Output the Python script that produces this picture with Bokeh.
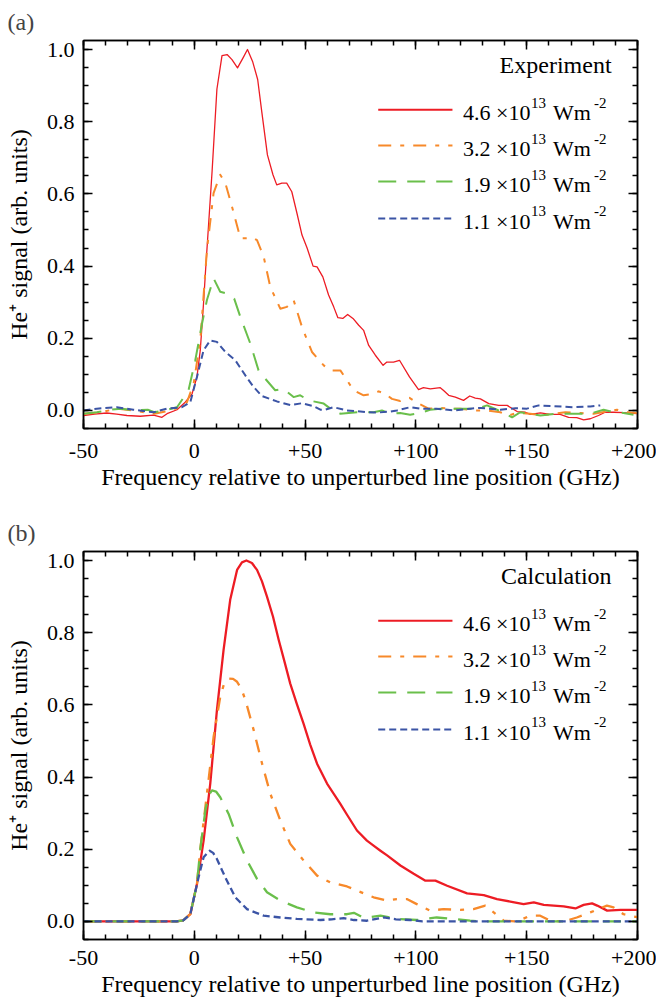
from bokeh.plotting import figure
from bokeh.layouts import column
from bokeh.models import (Range1d, LinearAxis, FixedTicker, CustomJSTickFormatter,
                          PrintfTickFormatter)
from bokeh.core.properties import value
from bokeh.embed import file_html
from bokeh.resources import INLINE

# ---------------- data: panel (a) experiment ----------------
exp46_x = [-50, -45, -39.5, -35, -30.4, -24.4, -18.4, -14.6, -12.3, -7.8, -4.1, -1, 1.2, 2.7, 4.2, 5, 6.5, 8,
           10.2, 12.5, 14.8, 17, 19.5, 22, 24, 26.3, 28.6, 30.5, 33, 35.5, 37.2, 39.5, 41.7, 44, 46.3, 48.6,
           50.9, 53.6, 55.4, 58, 60.6, 62.9, 64.8, 67, 69.2, 71.6, 74.2, 76.4, 78.7, 81.7, 85.2, 86.9, 89.9,
           92.6, 97.1, 101.2, 103.4, 106.5, 111, 112.5, 114.8, 117.8, 121.5, 124.3, 126.8, 129.1, 132.9,
           137.4, 141.2, 145.7, 149.4, 151.6, 156.2, 160.6, 165.1, 168.9, 172.6, 175.7, 178.7, 182.4, 185.4,
           189.2, 193.7, 199.7]
exp46_y = [-0.014, -0.01, -0.007, -0.01, -0.014, -0.016, -0.013, -0.019, -0.009, 0.002, 0.023, 0.046, 0.093,
           0.167, 0.3, 0.38, 0.52, 0.66, 0.89, 0.983, 0.986, 0.972, 0.949, 0.977, 1.0, 0.967, 0.917, 0.825,
           0.708, 0.653, 0.625, 0.63, 0.63, 0.606, 0.547, 0.486, 0.45, 0.4, 0.398, 0.37, 0.32, 0.287, 0.257,
           0.255, 0.266, 0.255, 0.236, 0.222, 0.18, 0.153, 0.125, 0.134, 0.134, 0.139, 0.093, 0.058, 0.063,
           0.06, 0.063, 0.055, 0.042, 0.037, 0.028, 0.04, 0.034, 0.032, 0.019, 0.014, 0.014, -0.003, -0.005,
           -0.011, -0.007, -0.011, -0.011, -0.019, -0.02, -0.026, -0.023, -0.014, -0.005, -0.005, -0.006,
           -0.009]

exp32_x = [-50, -42, -35, -28, -18, -12, -6.3, -3.3, -0.3, 2.7, 5.7, 8.7, 11.7, 14, 17, 20.8, 23.8, 26, 28.3,
           31.3, 34.3, 38.8, 41.8, 44.8, 48.6, 53.1, 58.4, 61.4, 65.9, 71.9, 76.4, 80.9, 83.2, 86.2, 89.2,
           92.9, 97.1, 101.2, 105.7, 111, 116.3, 120, 126.8, 132.1, 138.1, 141.8, 145.6, 151.6, 156.9, 162.1,
           167.4, 174.2, 180.2, 186.2, 190.7, 195.2, 199.7]
exp32_y = [-0.009, -0.005, 0.005, 0.0, -0.009, -0.002, 0.009, 0.023, 0.074, 0.194, 0.444, 0.602, 0.653, 0.63,
           0.565, 0.477, 0.477, 0.48, 0.472, 0.426, 0.342, 0.282, 0.287, 0.306, 0.231, 0.162, 0.125, 0.111,
           0.111, 0.056, 0.042, 0.046, 0.053, 0.046, 0.032, 0.026, 0.035, 0.019, 0.005, 0.007, 0.005, 0.005,
           0.0, 0.0, -0.005, -0.014, -0.007, -0.009, -0.014, -0.009, -0.005, -0.007, -0.009, -0.003, 0.002,
           -0.005, -0.007]

exp19_x = [-50, -44, -38, -33, -27, -21, -18, -12, -7.8, -2.6, 0.45, 3.5, 5.7, 8.7, 11.7, 14.8, 18, 20.8,
           25.3, 29, 32, 36.5, 40.3, 44.8, 47.8, 51.6, 58.4, 61.4, 65.9, 73.4, 80.9, 84.7, 88.4, 92.9, 97.4,
           101.9, 106.4, 111, 115.5, 123, 127.5, 132.1, 136.6, 140.3, 143.4, 147.1, 151.6, 156.2, 163.7,
           169.7, 175.7, 180.2, 184.7, 189.2, 193.7, 198.2]
exp19_y = [-0.009, -0.005, 0.002, 0.005, 0.0, 0.002, -0.005, 0.002, 0.009, 0.056, 0.139, 0.241, 0.306, 0.366,
           0.329, 0.324, 0.31, 0.259, 0.185, 0.111, 0.088, 0.056, 0.06, 0.037, 0.042, 0.028, 0.019, 0.005,
           -0.009, -0.005, -0.005, 0.0, -0.009, -0.007, -0.012, -0.007, 0.002, 0.005, 0.005, 0.005, 0.005,
           0.014, 0.002, -0.009, -0.019, -0.005, -0.009, -0.014, -0.009, -0.009, -0.009, -0.006, 0.002,
           -0.005, -0.007, -0.012]

exp11_x = [-50, -44, -35, -27.5, -18.4, -12.4, -5.6, -1.8, 1.2, 4.2, 7.2, 10.2, 14, 18.5, 23.8, 26.8, 30.5,
           37.3, 43.3, 48.6, 53.8, 56.9, 59.1, 62.9, 68.9, 74.9, 77.9, 82.4, 88.4, 91.4, 97.4, 101.9, 109.4,
           117, 124.5, 129.1, 138.1, 144.9, 150.1, 155.4, 162.1, 171.2, 178.7, 183.2]
exp11_y = [0.0, 0.005, 0.009, 0.002, -0.005, 0.005, 0.009, 0.023, 0.093, 0.167, 0.194, 0.19, 0.162, 0.139,
           0.09, 0.065, 0.04, 0.025, 0.015, 0.02, 0.012, 0.002, 0.002, 0.009, 0.0, -0.003, -0.005, -0.006,
           -0.003, 0.0, 0.009, 0.005, 0.005, 0.0, 0.005, 0.007, 0.002, 0.006, 0.005, 0.014, 0.012, 0.009,
           0.011, 0.014]

# ---------------- data: panel (b) calculation ----------------
calc46_x = [-50, -8, -5, -1.8, 1.2, 4.2, 7.2, 10.2, 13.2, 16.2, 19.3, 21.5, 23.5, 26, 28.3, 30.5, 32.8, 35.5,
            38.1, 40.7, 43.3, 46.3, 49.3, 52.3, 55.4, 59.9, 65.9, 69, 73.4, 77.9, 80.9, 84, 87, 93, 99, 104.3,
            108.8, 114.1, 123.1, 130.6, 136.6, 142.6, 148.6, 153.2, 157.7, 162.2, 166.7, 172, 175.7, 179.5,
            181.8, 186.3, 192.3, 198.3, 200]
calc46_y = [0, 0, 0.003, 0.02, 0.104, 0.224, 0.382, 0.585, 0.752, 0.891, 0.974, 0.995, 1.0, 0.993, 0.974,
            0.943, 0.9, 0.845, 0.78, 0.72, 0.659, 0.602, 0.548, 0.49, 0.437, 0.382, 0.326, 0.295, 0.252,
            0.224, 0.21, 0.196, 0.183, 0.155, 0.132, 0.113, 0.113, 0.099, 0.078, 0.073, 0.062, 0.055, 0.048,
            0.053, 0.046, 0.044, 0.042, 0.036, 0.046, 0.05, 0.044, 0.03, 0.032, 0.032, 0.032]

calc32_x = [-50, -8, -5, -1.8, 1.2, 2.7, 5.7, 8.7, 11.7, 13.5, 15.5, 17.5, 19.3, 21.2, 23.1, 26.8, 30.6, 34.3,
            38.8, 43.3, 49.3, 55.4, 61.4, 68.9, 76.4, 80.9, 87, 91.4, 95.9, 100.4, 106.4, 112.4, 120, 126,
            131.3, 135.1, 139.6, 145.6, 151.6, 156.1, 160.6, 166.7, 172.6, 178.7, 186.2, 189.2, 193.7, 198.2,
            200]
calc32_y = [0, 0, 0.003, 0.02, 0.104, 0.2, 0.354, 0.511, 0.622, 0.66, 0.673, 0.672, 0.664, 0.645, 0.613,
            0.53, 0.437, 0.354, 0.28, 0.215, 0.169, 0.127, 0.108, 0.097, 0.078, 0.067, 0.058, 0.062, 0.062,
            0.048, 0.03, 0.034, 0.032, 0.034, 0.044, 0.025, 0.002, 0.0, 0.016, 0.016, 0.002, 0.0, 0.011,
            0.025, 0.044, 0.039, 0.02, 0.014, 0.012]

calc19_x = [-50, -8, -5, -1.8, 1.2, 2.7, 5, 6.5, 8, 9.8, 11.7, 15.5, 19.3, 23.8, 28.3, 32.8, 38.8, 46.3, 53.8,
            61.4, 68.9, 72, 76.4, 84, 91.4, 100.4, 109.4, 116.9, 124.4, 130, 200]
calc19_y = [0, 0, 0.003, 0.02, 0.104, 0.2, 0.308, 0.35, 0.363, 0.36, 0.344, 0.298, 0.233, 0.169, 0.118,
            0.081, 0.058, 0.039, 0.025, 0.02, 0.02, 0.024, 0.01, 0.016, 0.007, 0.004, 0.011, 0.007, 0.002,
            0.0, 0.0]

calc11_x = [-50, -8, -5, -1.8, 1.9, 4.2, 6.9, 8.5, 10.2, 14, 18.5, 23.8, 31.3, 38.8, 46.3, 56.9, 62, 67.4, 72,
            77.9, 85.5, 91, 97.4, 103, 200]
calc11_y = [0, 0, 0.003, 0.02, 0.122, 0.178, 0.196, 0.19, 0.173, 0.122, 0.067, 0.034, 0.016, 0.011, 0.007,
            0.004, 0.006, 0.009, 0.004, 0.002, 0.011, 0.006, 0.004, 0.0, 0.0]

intensities = ["4.6", "3.2", "1.9", "1.1"]
x_major = [-50, 0, 50, 100, 150, 200]
x_minor = list(range(-50, 201, 10))
y_major = [0.0, 0.2, 0.4, 0.6, 0.8, 1.0]
y_minor = [round(-0.05 + 0.05 * i, 2) for i in range(22)]

# ---------------- styles ----------------
FONT = "Liberation Serif"
COLORS = ["#ed1c24", "#f7892a", "#6abf4b", "#3b54a5"]
DASHES = ["solid", "13 9 4 9", "18 11", "7 4"]


def make_panel(tag, header, series, widths, top_border, bottom_border, height, tick_standoff):
    p = figure(width=656, height=height, output_backend="svg", toolbar_location=None,
               x_range=Range1d(-50, 200), y_range=Range1d(-0.05, 1.025),
               min_border_left=83, min_border_right=19, min_border_top=top_border,
               min_border_bottom=bottom_border, x_axis_type=None, y_axis_type=None,
               title=tag)
    p.grid.visible = False
    p.outline_line_color = "black"
    p.outline_line_width = 1.5
    p.background_fill_color = "white"
    p.border_fill_color = "white"
    p.title.text_font = FONT
    p.title.text_font_size = "24px"
    p.title.text_font_style = "normal"
    p.title.align = "left"
    p.title.offset = -76
    p.title.standoff = 12

    xt = FixedTicker(ticks=x_major, minor_ticks=x_minor)
    yt = FixedTicker(ticks=y_major, minor_ticks=y_minor)

    def style(ax, show):
        ax.axis_line_width = 1.5
        ax.major_tick_in = 9
        ax.major_tick_out = 0
        ax.minor_tick_in = 5
        ax.minor_tick_out = 0
        ax.major_tick_line_width = 1.5
        ax.minor_tick_line_width = 1.5
        if show:
            ax.major_label_text_font = FONT
            ax.major_label_text_font_size = "22px"
            ax.major_label_text_color = "black"
            ax.axis_label_text_font = FONT
            ax.axis_label_text_font_size = "24px"
            ax.axis_label_text_font_style = "normal"
            ax.axis_label_text_color = "black"
        else:
            ax.major_label_text_font_size = "0px"
            ax.major_label_text_color = None
            ax.major_label_standoff = 0

    xb = LinearAxis(ticker=xt, axis_label="Frequency relative to unperturbed line position (GHz)",
                    formatter=CustomJSTickFormatter(code="return tick > 0 ? '+' + tick.toFixed(0) : tick.toFixed(0);"))
    style(xb, True)
    xb.major_label_standoff = tick_standoff
    xb.axis_label_standoff = 3
    p.add_layout(xb, "below")
    xa = LinearAxis(ticker=xt)
    style(xa, False)
    p.add_layout(xa, "above")
    yl = LinearAxis(ticker=yt, axis_label="He\u207a signal (arb. units)",
                    formatter=PrintfTickFormatter(format="%.1f"))
    style(yl, True)
    yl.major_label_standoff = 9
    yl.axis_label_standoff = 12
    p.add_layout(yl, "left")
    yr = LinearAxis(ticker=yt)
    style(yr, False)
    p.add_layout(yr, "right")

    for (xs, ys), c, d, w in zip(series, COLORS, DASHES, widths):
        p.line(xs, ys, line_color=c, line_dash=d, line_width=w, line_cap="butt", line_join="round")

    # legend block (manual, for superscripts)
    lx0, lx1, tx = 83.0, 116.5, 121.3
    rows = [0.833, 0.734, 0.634, 0.532]
    for r, c, d, lab in zip(rows, COLORS, DASHES, intensities):
        p.line([lx0, lx1], [r, r], line_color=c, line_dash=d, line_width=2.0, line_cap="butt")
        common = dict(text_font=value(FONT), text_color="black", text_align="left",
                      text_baseline="alphabetic")
        p.text(x=[tx], y=[r], text=[lab + " \u00d710"], text_font_size="22px", y_offset=3, **common)
        p.text(x=[tx], y=[r], text=["13"], text_font_size="15px", x_offset=68, y_offset=-7, **common)
        p.text(x=[tx], y=[r], text=["Wm"], text_font_size="22px", x_offset=90, y_offset=3, **common)
        p.text(x=[tx], y=[r], text=["-2"], text_font_size="15px", x_offset=131, y_offset=-7, **common)
    p.text(x=[188.3], y=[0.958], text=[header], text_font=value(FONT), text_font_size="24px",
           text_color="black", text_align="right", text_baseline="alphabetic")
    return p


pa = make_panel("(a)", "Experiment",
                [(exp46_x, exp46_y), (exp32_x, exp32_y), (exp19_x, exp19_y), (exp11_x, exp11_y)],
                [1.3, 2.0, 2.0, 2.0], 40, 72, 500, 15)
pb = make_panel("(b)", "Calculation",
                [(calc46_x, calc46_y), (calc32_x, calc32_y), (calc19_x, calc19_y), (calc11_x, calc11_y)],
                [2.3, 2.3, 2.3, 2.3], 51, 64, 503, 11)

layout = column(pa, pb, spacing=0)
open("out.html", "w").write(file_html(layout, INLINE))
